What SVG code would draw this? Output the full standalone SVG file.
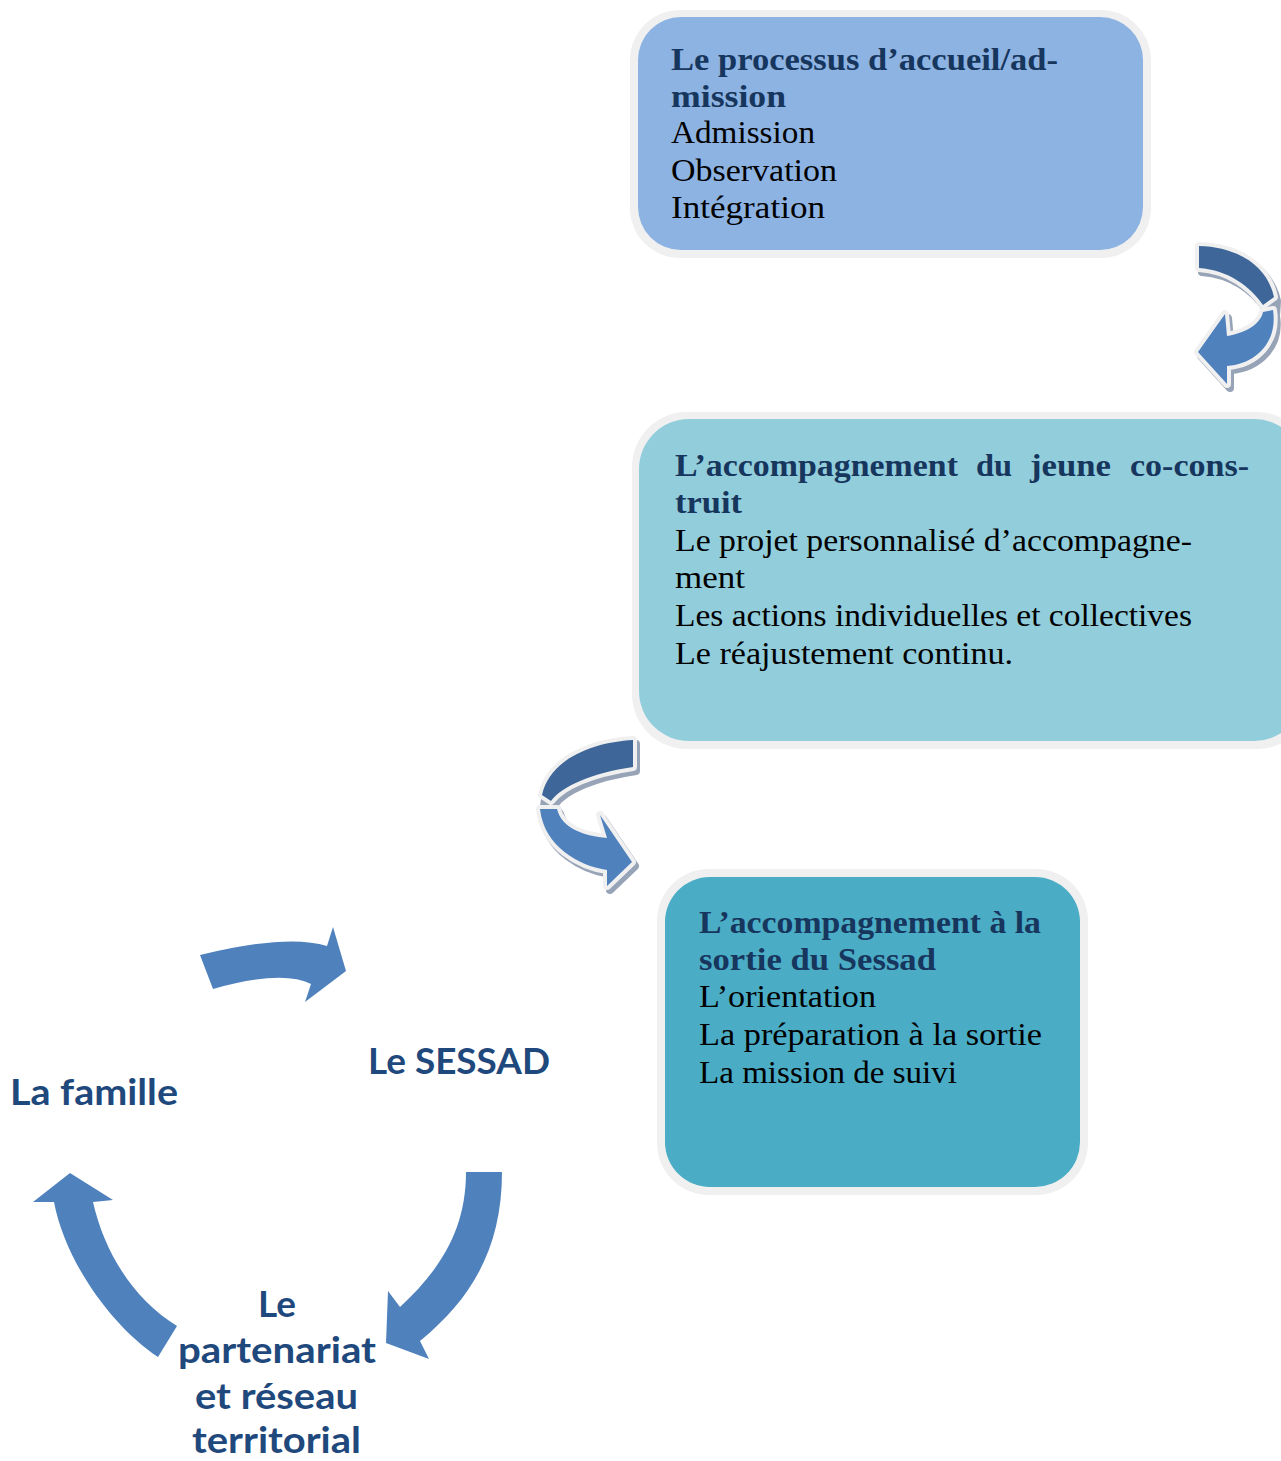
<svg xmlns="http://www.w3.org/2000/svg" width="1281" height="1461" viewBox="0 0 1281 1461">
<style>
.rim{fill:#f0f0f0}
.hb{font-family:"Liberation Serif",serif;font-weight:bold;font-size:31px;fill:#17365d}
.tx{font-family:"Liberation Serif",serif;font-size:32px;fill:#000}
.sn{font-family:Lato,"Liberation Sans",sans-serif;font-weight:bold;font-size:37px;fill:#1f497d}
.cyc{fill:#4f81bd}
.sh{fill:#97a3b6;stroke:#97a3b6}
.ol{stroke:#f0f0f0;stroke-width:8;stroke-linejoin:round;paint-order:stroke}
.dk{fill:#3e6699}
.lt{fill:#4f81bd}
</style>
<rect width="1281" height="1461" fill="#fff"/>
<g id="box1">
<rect class="rim" x="630" y="10" width="521" height="248" rx="50"/>
<rect x="638" y="17" width="505" height="233" rx="43" fill="#8db3e2"/>
<text class="hb" x="671" y="70" textLength="387" lengthAdjust="spacingAndGlyphs">Le processus d’accueil/ad-</text>
<text class="hb" x="671" y="107" textLength="115" lengthAdjust="spacingAndGlyphs">mission</text>
<text class="tx" x="671" y="143" textLength="144" lengthAdjust="spacingAndGlyphs">Admission</text>
<text class="tx" x="671" y="181" textLength="166" lengthAdjust="spacingAndGlyphs">Observation</text>
<text class="tx" x="671" y="218" textLength="154" lengthAdjust="spacingAndGlyphs">Intégration</text>
</g>
<g id="box2">
<rect class="rim" x="632" y="412" width="680" height="337" rx="55"/>
<rect x="639" y="419" width="665" height="322" rx="50" fill="#92cddc"/>
<text class="hb" x="675" y="476" textLength="283" lengthAdjust="spacingAndGlyphs">L’accompagnement</text>
<text class="hb" x="976" y="476" textLength="36" lengthAdjust="spacingAndGlyphs">du</text>
<text class="hb" x="1030" y="476" textLength="81" lengthAdjust="spacingAndGlyphs">jeune</text>
<text class="hb" x="1130" y="476" textLength="119" lengthAdjust="spacingAndGlyphs">co-cons-</text>
<text class="hb" x="675" y="513" textLength="67" lengthAdjust="spacingAndGlyphs">truit</text>
<text class="tx" x="675" y="551" textLength="517" lengthAdjust="spacingAndGlyphs">Le projet personnalisé d’accompagne-</text>
<text class="tx" x="675" y="588" textLength="70" lengthAdjust="spacingAndGlyphs">ment</text>
<text class="tx" x="675" y="626" textLength="517" lengthAdjust="spacingAndGlyphs">Les actions individuelles et collectives</text>
<text class="tx" x="675" y="664" textLength="338" lengthAdjust="spacingAndGlyphs">Le réajustement continu.</text>
</g>
<g id="box3">
<rect class="rim" x="657" y="869" width="431" height="326" rx="52"/>
<rect x="665" y="877" width="415" height="310" rx="45" fill="#4bacc6"/>
<text class="hb" x="699" y="933" textLength="342" lengthAdjust="spacingAndGlyphs">L’accompagnement à la</text>
<text class="hb" x="699" y="970" textLength="237" lengthAdjust="spacingAndGlyphs">sortie du Sessad</text>
<text class="tx" x="699" y="1007" textLength="177" lengthAdjust="spacingAndGlyphs">L’orientation</text>
<text class="tx" x="699" y="1045" textLength="343" lengthAdjust="spacingAndGlyphs">La préparation à la sortie</text>
<text class="tx" x="699" y="1083" textLength="258" lengthAdjust="spacingAndGlyphs">La mission de suivi</text>
</g>
<g id="famille"><text class="sn" x="10" y="1105" textLength="168" lengthAdjust="spacingAndGlyphs">La famille</text></g>
<g id="sessad"><text class="sn" x="368" y="1074" textLength="182" lengthAdjust="spacingAndGlyphs">Le SESSAD</text></g>
<g id="partenariat">
<text class="sn" x="258" y="1317" textLength="38" lengthAdjust="spacingAndGlyphs">Le</text>
<text class="sn" x="178" y="1363" textLength="198" lengthAdjust="spacingAndGlyphs">partenariat</text>
<text class="sn" x="195" y="1409" textLength="163" lengthAdjust="spacingAndGlyphs">et réseau</text>
<text class="sn" x="192" y="1453" textLength="169" lengthAdjust="spacingAndGlyphs">territorial</text>
</g>
<g id="connectors">
<g id="arrow-1-2">
<g transform="translate(3,4)">
<path class="sh ol" style="stroke:#97a3b6" d="M1199,246 C1237,247 1267,265 1274,297 L1273,312 C1278,342 1256,364 1227,366 L1227,384 L1198,352 L1225,314 L1227,336 C1245,333 1260,325 1263,314 L1263,305 C1250,286 1228,270 1199,268 Z"/>
</g>
<path class="dk ol" d="M1199,246 C1237,247 1267,265 1274,297 L1263,305 C1250,286 1228,270 1199,268 Z"/>
<path class="lt ol" d="M1273,310 C1278,342 1256,364 1227,366 L1227,384 L1198,352 L1225,314 L1227,336 C1245,333 1260,325 1263,312 Z"/>
</g>
<g id="arrow-2-3">
<g transform="translate(3,4)">
<path class="sh ol" style="stroke:#97a3b6" d="M633,740 C595,742 550,758 542,795 L540,810 C544,847 580,866 607,870 L607,886 L632,862 L600,815 L607,838 C585,836 562,829 557,810 L551,801 C562,786 592,773 633,767 Z"/>
</g>
<path class="dk ol" d="M633,740 C595,742 550,758 542,795 L551,801 C562,786 592,773 633,767 Z"/>
<path class="lt ol" d="M540,809 C544,847 580,866 607,870 L607,886 L632,862 L600,815 L607,838 C585,836 562,829 557,809 Z"/>
</g>
<path id="cyc-top" class="cyc" d="M200,955 Q287.5,933.5 327,946 L333,927 L346,971 L305,1002 L311,984 Q282,969.5 213,989 Z"/>
<path id="cyc-right" class="cyc" d="M466,1172 L502,1172 C502,1250 470,1300 420,1341 L429,1359 L386,1343 L388,1291 L400,1307 C440,1270 466,1230 466,1172 Z"/>
<path id="cyc-left" class="cyc" d="M158,1357 C110,1325 65,1260 54,1202 L33,1202 L70,1173 L113,1200 L93,1202 C105,1255 135,1300 177,1326 Z"/>
</g>
</svg>
